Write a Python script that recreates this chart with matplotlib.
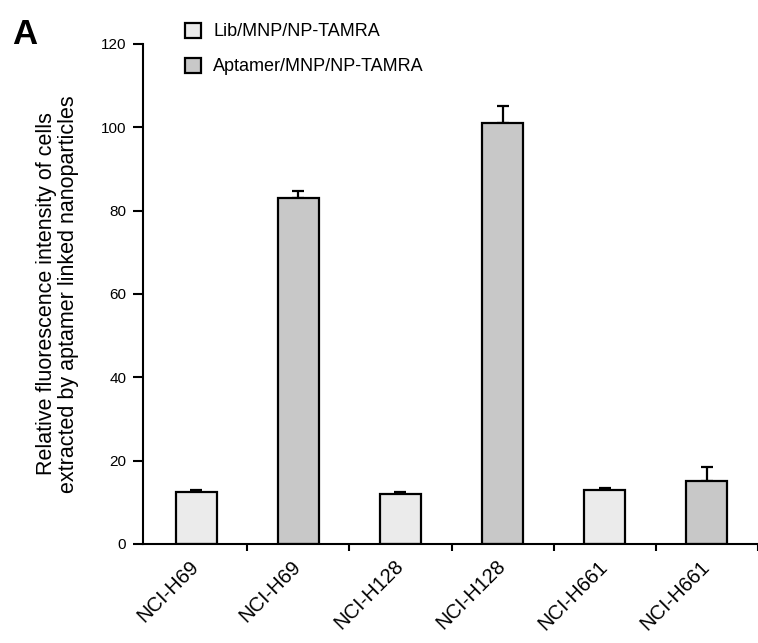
"""Relative fluorescence bar chart (panel A)"""
import matplotlib.pyplot as plt
import matplotlib as mpl
from matplotlib.patches import Patch
import numpy as np

# ── data ──
cell_lines = ["NCI-H69", "NCI-H69", "NCI-H128", "NCI-H128", "NCI-H661", "NCI-H661"]
groups = ["Lib", "Apt", "Lib", "Apt", "Lib", "Apt"]
values = [12.5, 83.1, 11.9, 101.1, 13.0, 15.2]
errors = [0.5, 1.6, 0.5, 4.0, 0.5, 3.3]
legend_labels = ["Lib/MNP/NP-TAMRA", "Aptamer/MNP/NP-TAMRA"]
colors = {"Lib": "#ebebeb", "Apt": "#c8c8c8"}

mpl.rcParams.update({
    "font.family": ["Liberation Sans", "DejaVu Sans"],
    "axes.linewidth": 1.5,
    "axes.spines.top": False,
    "axes.spines.right": False,
})

fig = plt.figure(figsize=(7.58, 6.43), dpi=100)
ax = fig.add_axes([0.1887, 0.154, 1.0 - 0.1887, 0.9316 - 0.154])

x = np.arange(len(values))
face = [colors[g] for g in groups]

ax.bar(x, values, width=0.40, color=face, edgecolor="black", linewidth=1.6, zorder=2)
# only the upper error bar
ax.errorbar(x, values, yerr=[np.zeros(len(errors)), errors], fmt="none",
            ecolor="black", elinewidth=1.6, capsize=4, capthick=1.6, zorder=1)

ax.set_xlim(-0.52, 5.43)
ax.set_ylim(0, 120)
ax.set_yticks(np.arange(0, 121, 20))
ax.tick_params(axis="y", direction="out", length=7, width=1.5, pad=5, labelsize=11)

# tick marks between bars, labels under bars
ax.set_xticks(x + 0.5, minor=True)
ax.set_xticks(x)
ax.tick_params(axis="x", which="minor", direction="out", length=5, width=1.5)
ax.tick_params(axis="x", which="major", length=0, pad=14)
ax.set_xticklabels(cell_lines, rotation=45, ha="right", va="center",
                   rotation_mode="anchor", fontsize=14.5)

ax.set_ylabel("Relative fluorescence intensity of cells\nextracted by aptamer linked nanoparticles",
              fontsize=15.5, labelpad=16, linespacing=1.05)

handles = [Patch(facecolor=colors["Lib"], edgecolor="black", linewidth=1.6),
           Patch(facecolor=colors["Apt"], edgecolor="black", linewidth=1.6)]
ax.legend(handles, legend_labels, loc="upper left", bbox_to_anchor=(0.222, 0.99),
          bbox_transform=fig.transFigure, frameon=False, fontsize=13,
          handlelength=0.9, handleheight=0.9, handletextpad=0.7, labelspacing=0.95)

fig.text(0.016, 0.972, "A", fontsize=25, fontweight="bold", va="top", ha="left")

plt.savefig("out.png", dpi=100)
